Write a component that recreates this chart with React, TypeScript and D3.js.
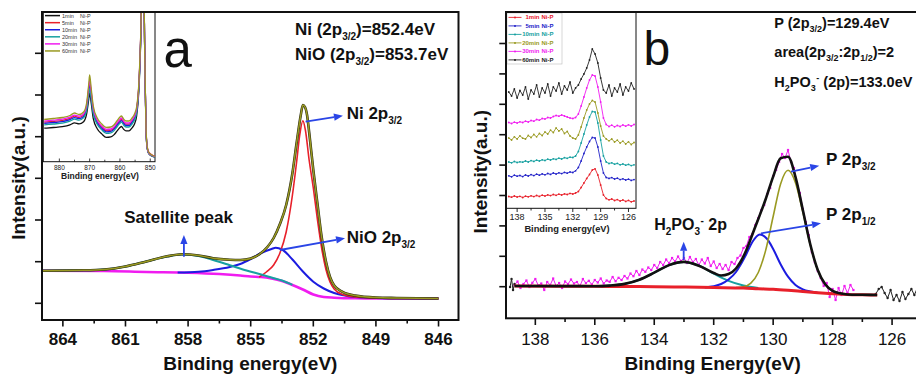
import React from "react";
import * as d3 from "d3";

type P = [number, number];

const FONT = "'Liberation Sans', Arial, Helvetica, sans-serif";

// ---------------- Panel a : Ni 2p3/2 ----------------
const niXTicks = [864, 861, 858, 855, 852, 849, 846];
const niXMinor = [862.5, 859.5, 856.5, 853.5, 850.5, 847.5];
const niYTicks = [167, 583, 1000, 1417, 1833, 2250, 2667];

const niBackground: P[] = [
  [865, 493], [862, 490], [860, 480], [858, 473], [856.5, 460], [855.5, 445], [855, 435],
  [854.5, 430], [854, 415], [853.5, 390], [853, 350], [852.5, 305], [852, 255], [851.5, 230],
  [851, 223], [850, 217], [848, 215], [846, 215],
];
const niSatellite: P[] = [
  [865, 493], [863, 497], [862, 505], [861, 535], [860, 585], [859, 635], [858.3, 655],
  [857.5, 640], [856.8, 600], [856, 548], [855.2, 495], [854.5, 455], [854, 425], [853.5, 395], [853, 352],
];
const niOxide: P[] = [
  [858.5, 474], [857.5, 482], [856.8, 500], [856, 530], [855.5, 560], [855, 610], [854.5, 670],
  [854, 710], [853.8, 723], [853.5, 705], [853, 605], [852.5, 485], [852, 383], [851.5, 315],
  [851, 270], [850.5, 245], [850, 230], [849, 220], [848, 215], [846, 215],
];
const niMetal: P[] = [
  [854.6, 428], [854.25, 480], [853.9, 550], [853.6, 670], [853.3, 880], [853, 1250], [852.8, 1580],
  [852.65, 1850], [852.5, 1993], [852.38, 1900], [852.2, 1600], [852, 1320], [851.8, 1000],
  [851.6, 720], [851.4, 510], [851.2, 380], [851, 310], [850.6, 255], [850, 230], [849, 220],
  [848, 215], [846, 215],
];
const niEnvelope: P[] = [
  [865, 493], [863, 497], [862, 505], [861, 535], [860, 585], [859, 637], [858.3, 657], [857.5, 645],
  [856.8, 618], [856, 603], [855.5, 600], [855, 615], [854.6, 655], [854.2, 730], [853.9, 820],
  [853.6, 960], [853.3, 1150], [853, 1470], [852.8, 1770], [852.6, 2050], [852.5, 2150], [852.4, 2130],
  [852.3, 2050], [852.2, 1880], [852, 1500], [851.8, 1160], [851.6, 830], [851.4, 590], [851.2, 430],
  [851, 345], [850.6, 282], [850, 245], [849, 225], [848, 220], [846, 215],
];

// inset a
const insetAXTicks = [880, 870, 860, 850];
const insetAXMinor = [875, 865, 855];
const insetAEnergy = [885, 882, 879, 876.5, 875, 873.5, 872, 871, 870.3, 870, 869.5, 868.8, 867.5, 866,
  864.5, 863, 862, 861, 860, 859.5, 858.8, 858, 857, 856, 855.2, 854.5, 853.8, 853.2, 852.6, 852.2,
  851.8, 851.4, 851, 850.5, 849.5, 848.3];
const insetA1min = [335, 342, 350, 368, 388, 378, 400, 478, 625, 687, 590, 430, 330, 278, 243, 248, 268,
  305, 342, 352, 325, 308, 308, 338, 378, 455, 690, 1150, 1917, 1917, 1030, 315, 130, 80, 58, 45];
const insetA5min = [395, 403, 413, 433, 455, 443, 466, 550, 725, 790, 685, 515, 402, 345, 310, 315, 335,
  375, 413, 425, 395, 375, 375, 405, 445, 517, 740, 1190, 1917, 1917, 1060, 340, 150, 95, 70, 55];
const insetA10min = [383, 392, 400, 420, 440, 430, 452, 532, 700, 760, 660, 495, 390, 333, 298, 303, 323,
  362, 400, 410, 382, 362, 362, 392, 432, 505, 728, 1180, 1917, 1917, 1045, 325, 138, 85, 62, 48];
const insetA20min = [368, 377, 386, 405, 426, 415, 438, 515, 675, 730, 635, 478, 375, 318, 283, 288, 308,
  347, 385, 395, 367, 347, 347, 377, 417, 490, 715, 1170, 1917, 1917, 1040, 320, 135, 82, 60, 46];
const insetA30min = [405, 415, 425, 445, 465, 455, 478, 565, 745, 815, 705, 530, 415, 357, 322, 327, 347,
  387, 425, 437, 407, 387, 387, 417, 457, 527, 750, 1200, 1917, 1917, 1050, 330, 140, 88, 64, 50];
const insetA60min = [422, 432, 442, 462, 487, 472, 497, 587, 777, 867, 737, 557, 437, 377, 342, 347, 367,
  407, 447, 457, 427, 407, 407, 437, 477, 547, 767, 1217, 1917, 1917, 1067, 337, 147, 92, 67, 52];
const insetALabels = ["1min", "5min", "10min", "20min", "30min", "60min"];

// ---------------- Panel b : P 2p ----------------
const pXTicks = [138, 136, 134, 132, 130, 128, 126];
const pXMinor = [137, 135, 133, 131, 129, 127];
const pYTicks = [313, 617, 921, 1225, 1529, 1833, 2137, 2441, 2745];

const pBackground: P[] = [
  [138.7, 320], [137, 318], [136, 317], [135, 315], [134, 313], [133, 310], [132, 305], [131, 300],
  [130.5, 293], [130, 287], [129.5, 277], [129, 265], [128.5, 253], [128, 243], [127.5, 235],
  [127, 232], [126.5, 230],
];
const pPhosphite: P[] = [
  [136, 318], [135.5, 324], [135, 341], [134.5, 383], [134, 453], [133.5, 529], [133, 561],
  [132.5, 525], [132, 444], [131.5, 371], [131, 325], [130.5, 301],
];
const pHalf: P[] = [
  [132.3, 306], [132, 318], [131.75, 340], [131.5, 385], [131.25, 460], [131.1, 530], [130.9, 640],
  [130.7, 760], [130.45, 836], [130.2, 790], [130, 690], [129.75, 538], [129.5, 413], [129.25, 330],
  [129, 286], [128.75, 265], [128.5, 253],
];
const pThreeHalf: P[] = [
  [131.25, 305], [131, 313], [130.75, 349], [130.5, 455], [130.25, 679], [130, 1015], [129.75, 1341],
  [129.5, 1477], [129.25, 1352], [129, 1056], [128.75, 729], [128.5, 480], [128.25, 337], [128, 271],
  [127.75, 247], [127.5, 235],
];
const pEnvelope: P[] = [
  [138.7, 320], [137, 319], [136, 318], [135.5, 324], [135, 341], [134.5, 383], [134, 453], [133.5, 529],
  [133, 561], [132.5, 523], [132, 450], [131.75, 425], [131.5, 440], [131.25, 495], [131.1, 560],
  [130.9, 680], [130.7, 835], [130.5, 990], [130.25, 1190], [130, 1414], [129.75, 1597], [129.5, 1613],
  [129.25, 1411], [129, 1077], [128.75, 735], [128.5, 480], [128.25, 337], [128, 271], [127.75, 247],
  [127.5, 235], [127, 232], [126.5, 230],
];
const pMeasured: P[] = [
  [138.7, 330], [138.6, 365], [138.5, 300], [138.4, 340], [138.3, 375], [138.2, 310], [138.1, 352],
  [138.0, 390], [137.9, 325], [137.8, 345], [137.7, 280], [137.6, 360], [137.5, 330], [137.4, 395],
  [137.3, 320], [137.2, 350], [137.1, 300], [137.0, 365], [136.9, 340], [136.8, 385], [136.7, 345],
  [136.6, 360], [136.5, 320], [136.4, 390], [136.3, 350], [136.2, 372], [136.1, 335], [136.0, 380],
  [135.9, 355], [135.8, 395], [135.7, 345], [135.6, 375], [135.5, 362], [135.4, 410], [135.3, 368],
  [135.2, 402], [135.1, 380], [135.0, 420], [134.9, 395], [134.8, 445], [134.7, 418], [134.6, 470],
  [134.5, 430], [134.4, 485], [134.3, 462], [134.2, 505], [134.1, 480], [134.0, 530], [133.9, 500],
  [133.8, 560], [133.7, 530], [133.6, 585], [133.5, 548], [133.4, 600], [133.3, 565], [133.2, 615],
  [133.1, 570], [133.0, 600], [132.9, 550], [132.8, 610], [132.7, 560], [132.6, 590], [132.5, 530],
  [132.4, 585], [132.3, 545], [132.2, 600], [132.1, 520], [132.0, 565], [131.9, 500], [131.8, 540],
  [131.7, 490], [131.6, 530], [131.5, 480], [131.4, 560], [131.3, 540], [131.2, 600], [131.1, 625],
  [131.0, 700], [130.9, 720], [130.8, 810], [130.7, 840], [130.6, 930], [130.5, 1000], [130.4, 1080],
  [130.3, 1130], [130.2, 1240], [130.1, 1300], [130.0, 1420], [129.9, 1480], [129.8, 1560],
  [129.7, 1640], [129.6, 1600], [129.5, 1680], [129.4, 1560], [129.3, 1500], [129.2, 1350],
  [129.1, 1250], [129.0, 1090], [128.9, 960], [128.8, 830], [128.7, 660], [128.6, 560], [128.5, 470],
  [128.4, 400], [128.3, 320], [128.2, 350], [128.1, 210], [128.0, 290], [127.9, 180], [127.8, 300],
  [127.7, 230], [127.6, 320], [127.5, 250], [127.4, 330], [127.3, 280],
];
const pRawLeft: P[] = [[138.85, 310], [138.8, 390], [138.75, 280], [138.7, 340]];
const pRawRight: P[] = [
  [126.55, 240], [126.45, 290], [126.35, 310], [126.25, 250], [126.15, 200], [126.05, 280],
  [125.95, 180], [125.85, 230], [125.75, 170], [125.65, 260], [125.55, 190], [125.45, 240],
  [125.35, 290], [125.25, 230], [125.15, 300], [125.05, 250],
];

// inset b
const insetBXTicks = [138, 135, 132, 129, 126];
const insetBXMinor = [136.5, 133.5, 130.5, 127.5];
const insetBEnergy = [138.9, 138.6, 138.3, 138.0, 137.7, 137.4, 137.1, 136.8, 136.5, 136.2, 135.9, 135.6,
  135.3, 135.0, 134.7, 134.4, 134.1, 133.8, 133.5, 133.2, 132.9, 132.6, 132.3, 132.0, 131.7, 131.4,
  131.1, 130.8, 130.5, 130.2, 129.9, 129.6, 129.3, 129.0, 128.7, 128.4, 128.1, 127.8, 127.5, 127.2,
  126.9, 126.6, 126.3, 126.0, 125.7, 125.4];
const insetB1min = [115, 108, 120, 110, 117, 105, 118, 112, 122, 114, 125, 116, 128, 120, 131, 124, 135,
  127, 138, 130, 141, 135, 146, 140, 150, 165, 205, 250, 295, 335, 380, 392, 330, 230, 130, 95, 82, 90,
  75, 84, 70, 80, 66, 76, 62, 70];
const insetB5min = [322, 312, 328, 318, 325, 314, 330, 320, 334, 324, 338, 328, 341, 332, 345, 336, 350,
  340, 352, 344, 356, 348, 360, 355, 372, 405, 470, 545, 610, 665, 705, 700, 610, 470, 350, 305, 296,
  304, 290, 298, 284, 292, 280, 288, 276, 284];
const insetB10min = [460, 452, 465, 455, 462, 458, 470, 460, 474, 466, 478, 470, 482, 475, 488, 480, 492,
  486, 498, 490, 503, 497, 508, 505, 520, 565, 650, 740, 830, 910, 965, 960, 850, 680, 520, 460, 445,
  452, 438, 446, 432, 440, 428, 436, 424, 432];
const insetB20min = [700, 680, 712, 690, 722, 698, 690, 725, 705, 735, 712, 745, 725, 760, 740, 778, 755,
  800, 770, 790, 745, 765, 720, 700, 690, 730, 810, 900, 980, 1040, 1075, 1060, 950, 820, 720, 690, 672,
  690, 660, 678, 650, 668, 640, 662, 635, 655];
const insetB30min = [855, 845, 858, 850, 862, 855, 868, 860, 875, 868, 885, 878, 895, 890, 905, 900, 915,
  925, 918, 930, 920, 910, 900, 895, 905, 940, 1020, 1110, 1200, 1280, 1330, 1320, 1210, 1060, 900, 835,
  815, 828, 812, 825, 815, 830, 818, 832, 820, 835];
const insetB60min = [1160, 1120, 1190, 1100, 1175, 1130, 1210, 1090, 1180, 1140, 1230, 1110, 1200, 1150,
  1240, 1120, 1210, 1170, 1250, 1140, 1220, 1180, 1260, 1150, 1200, 1230, 1290, 1340, 1400, 1480, 1590,
  1540, 1450, 1300, 1180, 1150, 1230, 1120, 1200, 1160, 1240, 1130, 1210, 1170, 1250, 1190];
const insetBLabels = ["1min", "5min", "10min", "20min", "30min", "60min"];

// annotations (data coordinates)
const niArrows: [P, P][] = [
  [[852.37, 1983], [850.58, 2043]],
  [[853.6, 700], [850.48, 817]],
  [[858.2, 633], [858.2, 850]],
];
const pArrows: [P, P][] = [
  [[129.4, 1463], [128.45, 1523]],
  [[130.41, 847], [128.39, 947]],
  [[133.01, 580], [133.01, 763]],
];

const COL = {
  black: "#111111",
  red: "#e8202a",
  blue: "#1c1ce0",
  teal: "#16a0a0",
  magenta: "#f01cf0",
  olive: "#9a9a22",
  arrow: "#2a45e6",
};

function Arrow({ x1, y1, x2, y2 }: { x1: number; y1: number; x2: number; y2: number }) {
  const a = Math.atan2(y2 - y1, x2 - x1);
  const len = 9, hw = 3.6;
  const bx = x2 - len * Math.cos(a), by = y2 - len * Math.sin(a);
  const pts = [
    [x2, y2],
    [bx + hw * Math.sin(a), by - hw * Math.cos(a)],
    [bx - hw * Math.sin(a), by + hw * Math.cos(a)],
  ].map((p) => p.join(",")).join(" ");
  return (
    <g>
      <line x1={x1} y1={y1} x2={bx} y2={by} stroke={COL.arrow} strokeWidth={1.8} />
      <polygon points={pts} fill={COL.arrow} />
    </g>
  );
}

export default function App() {
  // scales
  const xA = d3.scaleLinear().domain([865, 845]).range([42, 459.4]);
  const yA = d3.scaleLinear().domain([0, 3080]).range([320, 12]);
  const xAi = d3.scaleLinear().domain([885.3, 848.2]).range([43.3, 155.7]);
  const yAi = d3.scaleLinear().domain([0, 1500]).range([161.7, 11.7]);
  const xB = d3.scaleLinear().domain([139, 125]).range([505.6, 921.8]);
  const yB = d3.scaleLinear().domain([0, 3060]).range([318, 12]);
  const xBi = d3.scaleLinear().domain([139.2, 125.2]).range([506, 635.9]);
  const yBi = d3.scaleLinear().domain([0, 1960]).range([208, 12]);

  const lineA = d3.line<P>().x((d) => xA(d[0])).y((d) => yA(d[1])).curve(d3.curveMonotoneX);
  const lineAi = d3.line<P>().x((d) => xAi(d[0])).y((d) => yAi(d[1])).curve(d3.curveMonotoneX);
  const lineB = d3.line<P>().x((d) => xB(d[0])).y((d) => yB(d[1])).curve(d3.curveMonotoneX);
  const lineBraw = d3.line<P>().x((d) => xB(d[0])).y((d) => yB(d[1]));
  const lineBi = d3.line<P>().x((d) => xBi(d[0])).y((d) => yBi(d[1]));

  const insetASeries = [
    { label: insetALabels[0], color: COL.black, values: insetA1min },
    { label: insetALabels[1], color: COL.red, values: insetA5min },
    { label: insetALabels[2], color: COL.blue, values: insetA10min },
    { label: insetALabels[3], color: COL.teal, values: insetA20min },
    { label: insetALabels[4], color: COL.magenta, values: insetA30min },
    { label: insetALabels[5], color: COL.olive, values: insetA60min },
  ];
  const insetBSeries = [
    { label: insetBLabels[0], color: COL.red, values: insetB1min },
    { label: insetBLabels[1], color: "#2323c8", values: insetB5min },
    { label: insetBLabels[2], color: COL.teal, values: insetB10min },
    { label: insetBLabels[3], color: COL.olive, values: insetB20min },
    { label: insetBLabels[4], color: COL.magenta, values: insetB30min },
    { label: insetBLabels[5], color: "#222222", values: insetB60min },
  ];

  const zip = (xs: number[], ys: number[]): P[] => xs.map((x, i) => [x, ys[i]] as P);

  return (
    <svg
      width={916}
      height={375}
      viewBox="0 0 916 375"
      style={{ position: "absolute", left: 0, top: 0, background: "#fff" }}
      fontFamily={FONT}
    >
      <defs>
        <clipPath id="clipA">
          <rect x={42} y={12} width={416.5} height={308} />
        </clipPath>
        <clipPath id="clipAi">
          <rect x={43.3} y={12} width={111.7} height={149.7} />
        </clipPath>
        <clipPath id="clipBi">
          <rect x={506} y={12} width={130} height={196} />
        </clipPath>
      </defs>
      <rect x={0} y={0} width={916} height={375} fill="#fff" />

      {/* ================= Panel a ================= */}
      <g clipPath="url(#clipA)">
        <path d={lineA(niBackground) || ""} fill="none" stroke={COL.magenta} strokeWidth={2.6} />
        <path d={lineA(niOxide) || ""} fill="none" stroke={COL.blue} strokeWidth={2} />
        <path d={lineA(niMetal) || ""} fill="none" stroke={COL.red} strokeWidth={1.6} />
        <path d={lineA(niSatellite) || ""} fill="none" stroke={COL.teal} strokeWidth={2} />
        <path d={lineA(niEnvelope) || ""} fill="none" stroke="#2a2a10" strokeWidth={2.6} />
        <path d={lineA(niEnvelope) || ""} fill="none" stroke={COL.olive} strokeWidth={1.5} />
      </g>

      {/* inset a */}
      <rect x={43.3} y={12} width={111.7} height={149.7} fill="#fff" stroke="#111" strokeWidth={1} />
      <g clipPath="url(#clipAi)">
        {insetASeries.map((s) => (
          <path key={s.label} d={lineAi(zip(insetAEnergy, s.values)) || ""} fill="none" stroke={s.color} strokeWidth={1.3} />
        ))}
      </g>
      {insetAXTicks.map((t) => (
        <g key={"iat" + t}>
          <line x1={xAi(t)} x2={xAi(t)} y1={161.7} y2={158.5} stroke="#111" strokeWidth={0.8} />
          <text x={xAi(t)} y={169.5} fontSize={6.5} textAnchor="middle" fill="#222">{t}</text>
        </g>
      ))}
      {insetAXMinor.map((t) => (
        <line key={"iam" + t} x1={xAi(t)} x2={xAi(t)} y1={161.7} y2={159.7} stroke="#111" strokeWidth={0.8} />
      ))}
      <text x={100} y={179} fontSize={8.5} fontWeight="bold" textAnchor="middle" fill="#222">Binding energy(eV)</text>
      {insetASeries.map((s, i) => (
        <g key={"ial" + s.label}>
          <line x1={45} x2={60} y1={15.6 + i * 7.07} y2={15.6 + i * 7.07} stroke={s.color} strokeWidth={1.5} />
          <text x={62} y={17.6 + i * 7.07} fontSize={5.5} fill="#333">{s.label}</text>
          <text x={80} y={17.6 + i * 7.07} fontSize={5.5} fill="#333">Ni-P</text>
        </g>
      ))}

      {/* frame a */}
      <rect x={42} y={12} width={416.5} height={308} fill="none" stroke="#111" strokeWidth={2} />
      {niXTicks.map((t) => (
        <g key={"ax" + t}>
          <line x1={xA(t)} x2={xA(t)} y1={320} y2={326.5} stroke="#111" strokeWidth={1.6} />
          <text x={xA(t)} y={345} fontSize={17} fontWeight="bold" textAnchor="middle" fill="#111">{t}</text>
        </g>
      ))}
      {niXMinor.map((t) => (
        <line key={"axm" + t} x1={xA(t)} x2={xA(t)} y1={320} y2={323.5} stroke="#111" strokeWidth={1.6} />
      ))}
      {niYTicks.map((t) => (
        <line key={"ay" + t} x1={35} x2={42} y1={yA(t)} y2={yA(t)} stroke="#111" strokeWidth={1.6} />
      ))}
      <text x={250.3} y={370} fontSize={19} fontWeight="bold" textAnchor="middle" fill="#111">Binding energy(eV)</text>
      <text transform="translate(25,178) rotate(-90)" fontSize={19} fontWeight="bold" textAnchor="middle" fill="#111">Intensity(a.u.)</text>

      {/* annotations a */}
      <text x={xA(859.18)} y={yA(2533)} fontSize={51} fill="#111">a</text>
      <text x={xA(852.88)} y={yA(2850)} fontSize={17} fontWeight="bold" fill="#111">
        Ni (2p<tspan fontSize={10} dy={5}>3/2</tspan><tspan dy={-5}>)=852.4eV</tspan>
      </text>
      <text x={xA(852.88)} y={yA(2600)} fontSize={17} fontWeight="bold" fill="#111">
        NiO (2p<tspan fontSize={10} dy={5}>3/2</tspan><tspan dy={-5}>)=853.7eV</tspan>
      </text>
      <text x={xA(850.4)} y={yA(2010)} fontSize={17} fontWeight="bold" fill="#111">
        Ni 2p<tspan fontSize={10} dy={5}>3/2</tspan>
      </text>
      <text x={xA(850.4)} y={yA(767)} fontSize={17} fontWeight="bold" fill="#111">
        NiO 2p<tspan fontSize={10} dy={5}>3/2</tspan>
      </text>
      <text x={xA(861.06)} y={yA(973)} fontSize={17} fontWeight="bold" fill="#111">Satellite peak</text>
      {niArrows.map((a, i) => (
        <Arrow key={"na" + i} x1={xA(a[0][0])} y1={yA(a[0][1])} x2={xA(a[1][0])} y2={yA(a[1][1])} />
      ))}

      {/* ================= Panel b ================= */}
      <path d={lineBraw(pMeasured) || ""} fill="none" stroke={COL.magenta} strokeWidth={1} />
      {pMeasured.map((d, i) => (
        <rect key={"pm" + i} x={xB(d[0]) - 1.1} y={yB(d[1]) - 1.1} width={2.2} height={2.2} fill={COL.magenta} />
      ))}
      <path d={lineBraw(pRawLeft) || ""} fill="none" stroke="#222" strokeWidth={1} />
      <path d={lineBraw(pRawRight) || ""} fill="none" stroke="#222" strokeWidth={1} />
      {pRawLeft.concat(pRawRight).map((d, i) => (
        <circle key={"pr" + i} cx={xB(d[0])} cy={yB(d[1])} r={1.2} fill="#222" />
      ))}
      <path d={lineB(pPhosphite) || ""} fill="none" stroke={COL.teal} strokeWidth={2} />
      <path d={lineB(pHalf) || ""} fill="none" stroke={COL.blue} strokeWidth={2} />
      <path d={lineB(pThreeHalf) || ""} fill="none" stroke={COL.olive} strokeWidth={1.6} />
      <path d={lineB(pBackground) || ""} fill="none" stroke={COL.red} strokeWidth={3} />
      <path d={lineB(pEnvelope) || ""} fill="none" stroke={COL.black} strokeWidth={2.6} />

      {/* inset b */}
      <rect x={506} y={12} width={130} height={196.3} fill="#fff" stroke="#111" strokeWidth={1} />
      <g clipPath="url(#clipBi)">
        {insetBSeries.map((s) => {
          const pts = zip(insetBEnergy, s.values);
          return (
            <g key={"ib" + s.label}>
              <path d={lineBi(pts) || ""} fill="none" stroke={s.color} strokeWidth={0.9} />
              {pts.map((d, i) => (
                <circle key={i} cx={xBi(d[0])} cy={yBi(d[1])} r={0.9} fill={s.color} />
              ))}
            </g>
          );
        })}
      </g>
      <rect x={507} y={13} width={55} height={51} fill="none" stroke="#bbbbbb" strokeWidth={0.6} />
      {insetBSeries.map((s, i) => {
        const yy = 17.4 + i * 8.5;
        return (
          <g key={"ibl" + s.label}>
            <line x1={508.5} x2={521.5} y1={yy} y2={yy} stroke={s.color} strokeWidth={0.9} />
            <circle cx={515} cy={yy} r={1} fill={s.color} />
            <text x={539.5} y={yy + 2} fontSize={6} fontWeight="bold" textAnchor="end" fill={s.color}>{s.label}</text>
            <text x={541.5} y={yy + 2} fontSize={6} fontWeight="bold" fill={s.color}>Ni-P</text>
          </g>
        );
      })}
      {insetBXTicks.map((t) => (
        <g key={"ibt" + t}>
          <line x1={xBi(t)} x2={xBi(t)} y1={208.3} y2={212} stroke="#111" strokeWidth={0.9} />
          <text x={xBi(t)} y={220} fontSize={9} textAnchor="middle" fill="#222">{t}</text>
        </g>
      ))}
      {insetBXMinor.map((t) => (
        <line key={"ibm" + t} x1={xBi(t)} x2={xBi(t)} y1={208.3} y2={210.5} stroke="#111" strokeWidth={0.9} />
      ))}
      <text x={567} y={232.3} fontSize={9.3} fontWeight="bold" textAnchor="middle" fill="#222">Binding energy(eV)</text>

      {/* frame b */}
      <rect x={506} y={12} width={420} height={306.3} fill="none" stroke="#111" strokeWidth={2} />
      {pXTicks.map((t) => (
        <g key={"bx" + t}>
          <line x1={xB(t)} x2={xB(t)} y1={318.3} y2={325} stroke="#111" strokeWidth={1.6} />
          <text x={xB(t)} y={345} fontSize={17} textAnchor="middle" fill="#111">{t}</text>
        </g>
      ))}
      {pXMinor.map((t) => (
        <line key={"bxm" + t} x1={xB(t)} x2={xB(t)} y1={318.3} y2={322} stroke="#111" strokeWidth={1.6} />
      ))}
      {pYTicks.map((t) => (
        <line key={"by" + t} x1={499.3} x2={506} y1={yB(t)} y2={yB(t)} stroke="#111" strokeWidth={1.6} />
      ))}
      <text x={712.7} y={370} fontSize={19} fontWeight="bold" textAnchor="middle" fill="#111">Binding Energy(eV)</text>
      <text transform="translate(486.5,171.7) rotate(-90)" fontSize={19} fontWeight="bold" textAnchor="middle" fill="#111">Intensity(a.u.)</text>

      {/* annotations b */}
      <text x={xB(134.36)} y={yB(2530)} fontSize={48} fill="#111">b</text>
      <text x={xB(129.96)} y={yB(2897)} fontSize={14.5} fontWeight="bold" fill="#111">
        P (2p<tspan fontSize={9} dy={4}>3/2</tspan><tspan dy={-4}>)=129.4eV</tspan>
      </text>
      <text x={xB(129.96)} y={yB(2613)} fontSize={14.5} fontWeight="bold" fill="#111">
        area(2p<tspan fontSize={9} dy={4}>3/2</tspan><tspan dy={-4}>:2p</tspan>
        <tspan fontSize={9} dy={4}>1/2</tspan><tspan dy={-4}>)=2</tspan>
      </text>
      <text x={xB(129.96)} y={yB(2313)} fontSize={14.5} fontWeight="bold" fill="#111">
        H<tspan fontSize={9} dy={4}>2</tspan><tspan dy={-4}>PO</tspan>
        <tspan fontSize={9} dy={4}>3</tspan><tspan fontSize={9} dy={-10} dx={0.5}>-</tspan>
        <tspan dy={6}> (2p)=133.0eV</tspan>
      </text>
      <text x={xB(128.22)} y={yB(1530)} fontSize={17} fontWeight="bold" fill="#111">
        P 2p<tspan fontSize={10} dy={5}>3/2</tspan>
      </text>
      <text x={xB(128.22)} y={yB(980)} fontSize={17} fontWeight="bold" fill="#111">
        P 2p<tspan fontSize={10} dy={5}>1/2</tspan>
      </text>
      <text x={xB(134.0)} y={yB(880)} fontSize={16} fontWeight="bold" fill="#111">
        H<tspan fontSize={10} dy={5}>2</tspan><tspan dy={-5}>PO</tspan>
        <tspan fontSize={10} dy={5}>3</tspan><tspan fontSize={10} dy={-11} dx={0.5}>-</tspan>
        <tspan dy={6}>  2p</tspan>
      </text>
      {pArrows.map((a, i) => (
        <Arrow key={"pa" + i} x1={xB(a[0][0])} y1={yB(a[0][1])} x2={xB(a[1][0])} y2={yB(a[1][1])} />
      ))}
    </svg>
  );
}
